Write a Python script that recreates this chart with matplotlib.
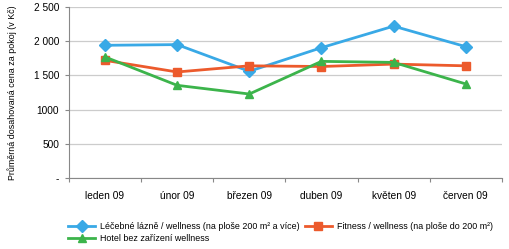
import matplotlib
matplotlib.use("Agg")
import matplotlib.pyplot as plt
from matplotlib.ticker import FixedLocator, NullFormatter, FixedFormatter

plt.rcParams['font.family'] = ['Liberation Sans', 'DejaVu Sans']

months = ['leden 09', 'únor 09', 'březen 09', 'duben 09', 'květen 09', 'červen 09']
lazne = [1940, 1950, 1560, 1905, 2220, 1920]
fitness = [1720, 1550, 1640, 1630, 1665, 1640]
hotel = [1770, 1355, 1228, 1705, 1690, 1375]
yticks = [0, 500, 1000, 1500, 2000, 2500]
ylabels = ['-', '500', '1000', '1 500', '2 000', '2 500']

fig = plt.figure(figsize=(5.1, 2.49), dpi=100)
ax = fig.add_axes([0.135, 0.285, 0.849, 0.687])

x = list(range(len(months)))
l1, = ax.plot(x, lazne, color='#39a9e6', lw=2, marker='D', ms=6, label='Léčebné lázně / wellness (na ploše 200 m² a více)', zorder=3)
l2, = ax.plot(x, fitness, color='#ec5a2c', lw=2, marker='s', ms=6, label='Fitness / wellness (na ploše do 200 m²)', zorder=3)
l3, = ax.plot(x, hotel, color='#3cb44b', lw=2, marker='^', ms=6, label='Hotel bez zařízení wellness', zorder=3)

ax.set_xlim(-0.5, len(months) - 0.5)
ax.set_ylim(0, 2500)
ax.xaxis.set_major_locator(FixedLocator([i - 0.5 for i in range(len(months) + 1)]))
ax.xaxis.set_major_formatter(NullFormatter())
ax.xaxis.set_minor_locator(FixedLocator(x))
ax.xaxis.set_minor_formatter(FixedFormatter(months))
ax.tick_params(axis='x', which='minor', length=0, labelsize=7.3, pad=9)
ax.tick_params(axis='x', which='major', length=3, color='#888888')
ax.set_yticks(yticks)
ax.set_yticklabels(ylabels)
ax.tick_params(axis='y', length=3, color='#888888', labelsize=7.3, pad=4)
ax.yaxis.grid(True, color='#cccccc', lw=0.9)
ax.set_axisbelow(True)
for s in ['top', 'right']:
    ax.spines[s].set_visible(False)
for s in ['left', 'bottom']:
    ax.spines[s].set_color('#888888')
ax.set_ylabel('Průměrná dosahovaná cena za pokoj (v Kč)', fontsize=6.4)
ax.yaxis.set_label_coords(-0.12, 0.5)

fig.legend(handles=[l1, l3, l2], loc='lower left', bbox_to_anchor=(0.118, -0.01), ncol=2,
           frameon=False, fontsize=6.4, handlelength=3.0, columnspacing=0.6,
           labelspacing=0.4, handletextpad=0.6)

fig.savefig('out.png', dpi=100)
